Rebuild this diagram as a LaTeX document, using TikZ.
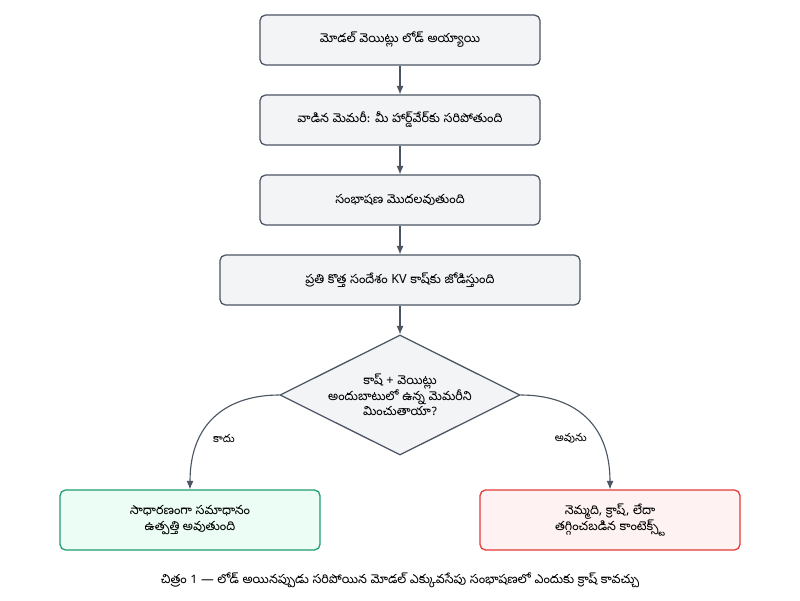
\documentclass[tikz,border=0pt]{standalone}
\usepackage{fontspec}
\IfFontExistsTF{Noto Sans Telugu}{\setmainfont[Script=Telugu]{Noto Sans Telugu}}{\setmainfont{Noto Sans}}
\usetikzlibrary{shapes.geometric,arrows.meta}
\definecolor{boxfill}{HTML}{F3F4F6}
\definecolor{boxline}{HTML}{4B5563}
\definecolor{okfill}{HTML}{ECFDF5}
\definecolor{okline}{HTML}{1F9D6E}
\definecolor{badfill}{HTML}{FEF2F2}
\definecolor{badline}{HTML}{E53935}
\tikzset{
  stage/.style={draw=boxline, fill=boxfill, rounded corners=4pt, line width=0.9pt,
    minimum height=1.25cm, align=center, font=\small},
  flow/.style={-{Latex[length=6pt,width=5pt]}, draw=boxline, line width=0.8pt},
  lbl/.style={font=\footnotesize, fill=white, inner sep=1pt}
}
\begin{document}
\begin{tikzpicture}[x=0.025cm,y=-0.025cm]
        \useasboundingbox (0,0) rectangle (800,600);

        \node[stage, minimum width=7cm] (load) at (400,40) {మోడల్ వెయిట్లు లోడ్ అయ్యాయి};
        \node[stage, minimum width=7cm] (mem) at (400,120) {వాడిన మెమరీ: మీ హార్డ్‌వేర్‌కు సరిపోతుంది};
        \node[stage, minimum width=7cm] (chat) at (400,200) {సంభాషణ మొదలవుతుంది};
        \node[stage, minimum width=9cm] (kv) at (400,280) {ప్రతి కొత్త సందేశం KV కాష్‌కు జోడిస్తుంది};

        \node[diamond, draw=boxline, fill=boxfill, line width=0.9pt, aspect=2,
          minimum width=6cm, minimum height=3cm, inner sep=0pt, align=center,
          font=\small\bfseries] (check) at (400,395)
          {కాష్ + వెయిట్లు\\అందుబాటులో ఉన్న మెమరీని\\మించుతాయా?};

        \node[stage, draw=okline, fill=okfill, minimum width=6.5cm, minimum height=1.5cm] (ok) at (190,520)
          {సాధారణంగా సమాధానం\\ఉత్పత్తి అవుతుంది};
        \node[stage, draw=badline, fill=badfill, minimum width=6.5cm, minimum height=1.5cm] (bad) at (610,520)
          {నెమ్మది, క్రాష్, లేదా\\తగ్గించబడిన కాంటెక్స్ట్};

        \draw[flow] (load) -- (mem);
        \draw[flow] (mem) -- (chat);
        \draw[flow] (chat) -- (kv);
        \draw[flow] (kv) -- (check);
        \draw[flow] (check.west) .. controls (230,395) and (190,420) .. (ok.north) node[lbl, pos=0.7, right=8pt] {కాదు};
        \draw[flow] (check.east) .. controls (570,395) and (610,420) .. (bad.north) node[lbl, pos=0.7, left=8pt] {అవును};

        \node[font=\small] (cap) at (400,580) {చిత్రం 1 — లోడ్ అయినప్పుడు సరిపోయిన మోడల్ ఎక్కువసేపు సంభాషణలో ఎందుకు క్రాష్ కావచ్చు};
\end{tikzpicture}
\end{document}
